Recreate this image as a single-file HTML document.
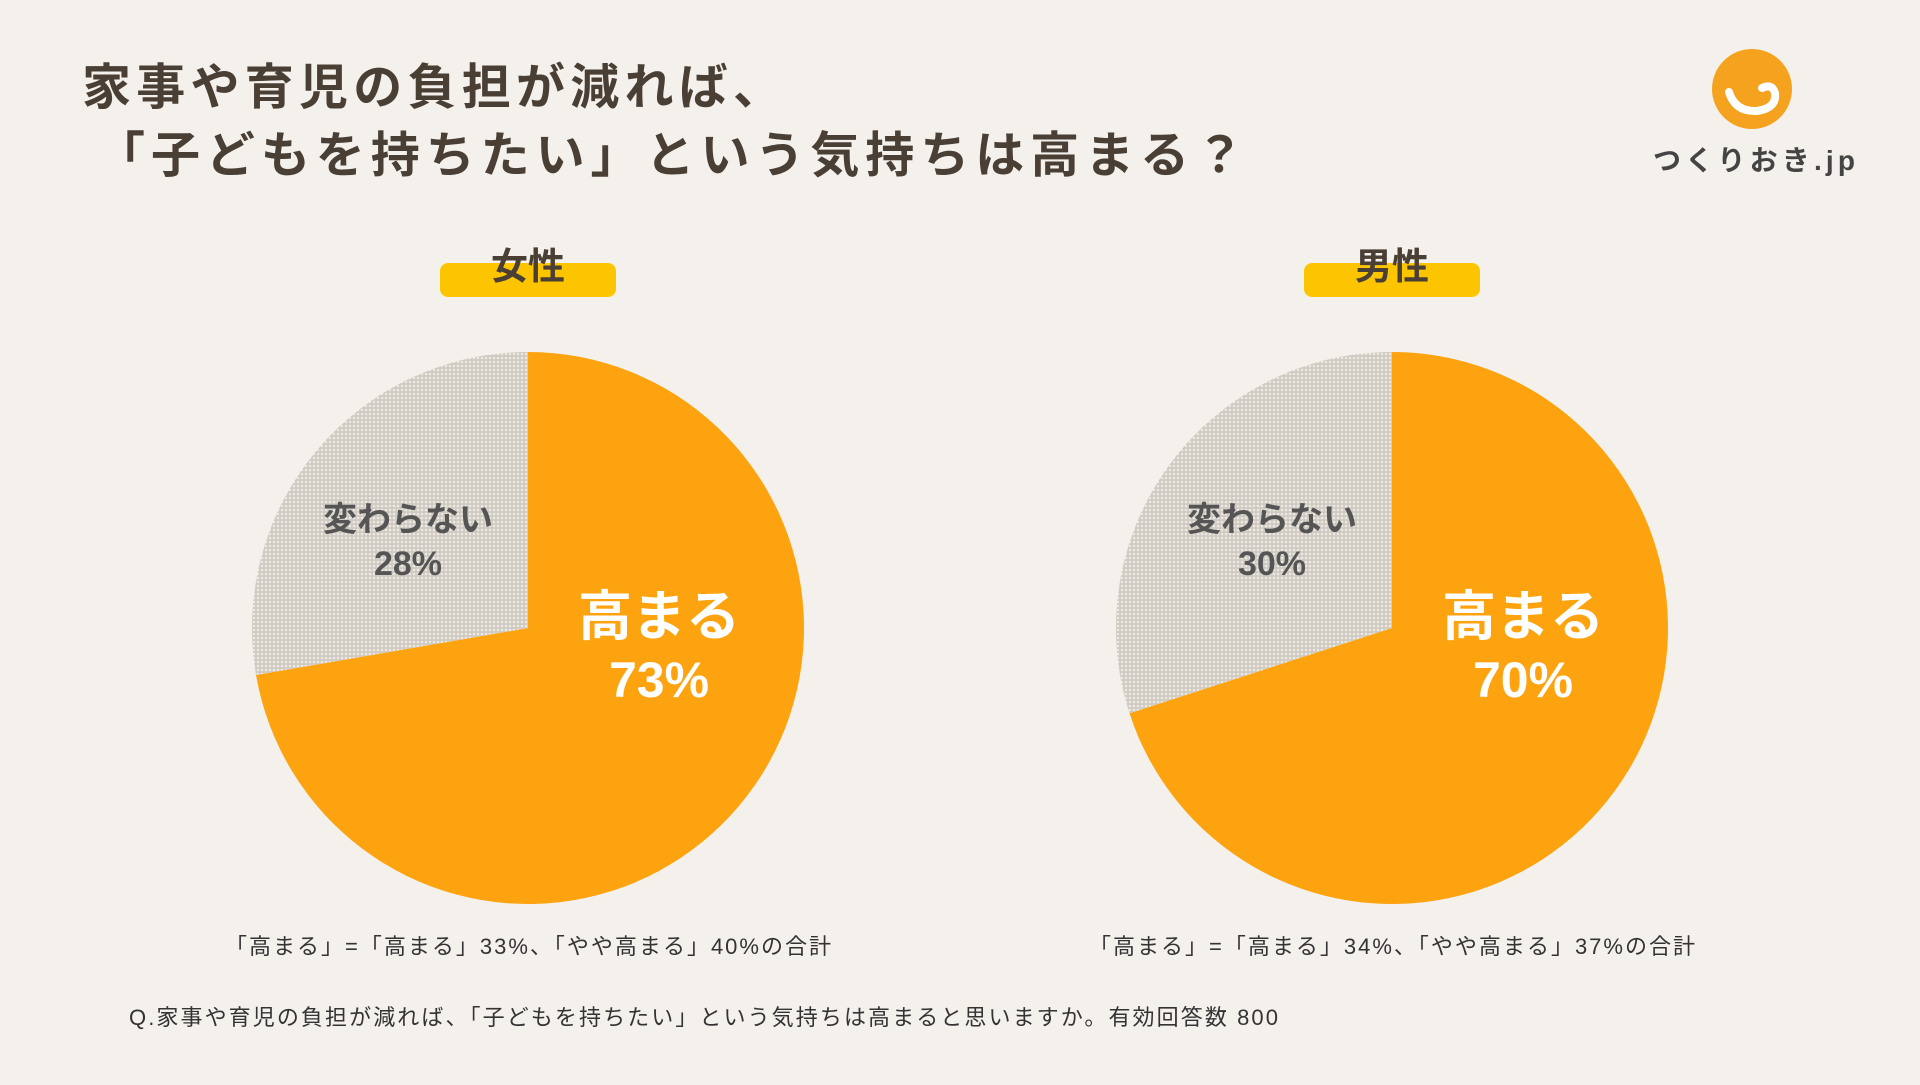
<!DOCTYPE html>
<html><head><meta charset="utf-8"><style>
body{margin:0;width:1920px;height:1080px;background:#f4f0ec;overflow:hidden;font-family:"Liberation Sans","Noto Sans CJK JP",sans-serif;}
</style></head><body>
<svg width="1920" height="1080" xmlns="http://www.w3.org/2000/svg">
<defs>
<pattern id="dots" width="4" height="4" patternUnits="userSpaceOnUse">
<rect width="4" height="4" fill="#cfcac1"/>
<circle cx="2" cy="2" r="1.3" fill="#ece8e2"/>
</pattern>
</defs>
<g font-family="Liberation Sans, Noto Sans CJK JP, sans-serif" font-weight="bold" fill="#4a3f35" font-size="49">
<text x="82" y="104" textLength="700" lengthAdjust="spacing">家事や育児の負担が減れば、</text>
<text x="96" y="172" textLength="1148" lengthAdjust="spacing">「子どもを持ちたい」という気持ちは高まる？</text>
</g>
<g>
<circle cx="1752" cy="89" r="40" fill="#f5a21f"/>
<path d="M1729 92 Q1735 112 1757 111 Q1777 108 1775 93 Q1772 83 1762 88" fill="none" stroke="#fff" stroke-width="8" stroke-linecap="round"/>
<text x="1653" y="170" textLength="202" lengthAdjust="spacing" font-size="28" font-weight="bold" fill="#444" font-family="Liberation Sans, Noto Sans CJK JP, sans-serif">つくりおき.jp</text>
</g>
<g id="pies"></g>
<text x="129" y="1025" font-size="22" textLength="1149" lengthAdjust="spacing" fill="#333" font-family="Liberation Sans, Noto Sans CJK JP, sans-serif">Q.家事や育児の負担が減れば、「子どもを持ちたい」という気持ちは高まると思いますか。有効回答数 800</text>
</svg>
<script>
const groups = ['女性','男性'];
const highValues = [73, 70];
const sameValues = [28, 30];
const notes = ['「高まる」=「高まる」33%、「やや高まる」40%の合計','「高まる」=「高まる」34%、「やや高まる」37%の合計'];
const centersX = [528, 1392];
const cy = 628, R = 276;
const NS = 'http://www.w3.org/2000/svg';
const root = document.getElementById('pies');
function mk(tag, attrs, parent){const e=document.createElementNS(NS,tag);for(const k in attrs)e.setAttribute(k,attrs[k]);(parent||root).appendChild(e);return e;}
function pt(cx,a){return [cx+R*Math.sin(a), cy-R*Math.cos(a)];}
function arc(cx,a0,a1){const p0=pt(cx,a0),p1=pt(cx,a1);const large=(a1-a0)>Math.PI?1:0;return `M${cx},${cy} L${p0[0]},${p0[1]} A${R},${R} 0 ${large} 1 ${p1[0]},${p1[1]} Z`;}
function txt(x,y,s,size,fill,name){const t=mk('text',{x:x,y:y,'text-anchor':'middle','font-size':size,'font-weight':'bold',fill:fill,'font-family':'Liberation Sans, Noto Sans CJK JP, sans-serif'});t.textContent=s;


return t;}
groups.forEach((g,i)=>{
  const cx=centersX[i];
  const total=highValues[i]+sameValues[i];
  const aH=2*Math.PI*highValues[i]/total;
  const high=mk('path',{d:arc(cx,0,aH),fill:'#fca30f'});
  
  
  const same=mk('path',{d:arc(cx,aH,2*Math.PI),fill:'url(#dots)'});
  
  
  const badge=mk('rect',{x:cx-88,y:263,width:176,height:34,rx:8,fill:'#fcc500'});
  
  
  txt(cx,279,g,37,'#4a3f35','group-label-'+i);
  txt(cx+131,635,'高まる',54,'#fff','high-label-'+i);
  txt(cx+131,697,highValues[i]+'%',50,'#fff','high-value-'+i);
  txt(cx-120,531,'変わらない',34,'#555','same-label-'+i);
  txt(cx-120,575,sameValues[i]+'%',34,'#555','same-value-'+i);
  const n=txt(cx,954,notes[i],22,'#333','footnote-'+i);n.setAttribute('font-weight','normal');
  n.setAttribute('textLength','606');n.setAttribute('lengthAdjust','spacing');
});
</script>
</body></html>
